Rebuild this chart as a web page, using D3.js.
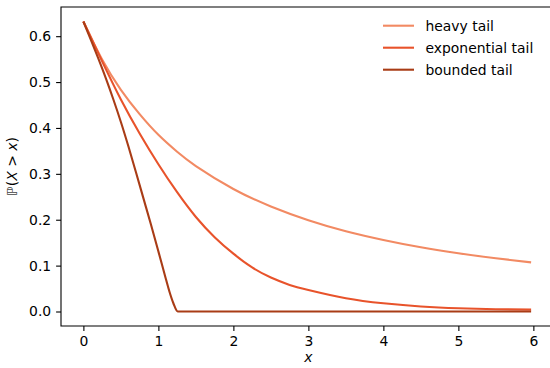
<!DOCTYPE html>
<html>
<head>
<meta charset="utf-8">
<script src="https://cdn.jsdelivr.net/npm/d3@7"></script>
<style>
body { margin: 0; background: #fff; }
svg { font-family: "DejaVu Sans", sans-serif; }
</style>
</head>
<body>
<script>
// values
var heavyX = [0, 0.25, 0.5, 0.75, 1.0, 1.25, 1.5, 2.0, 2.5, 3.0, 3.5, 4.0, 4.5, 5.0, 5.5, 5.97];
var heavyY = [0.632, 0.549, 0.483, 0.430, 0.385, 0.348, 0.317, 0.267, 0.229, 0.199, 0.175, 0.156, 0.140, 0.127, 0.116, 0.107];

var expX = [0, 0.25, 0.5, 0.75, 1.0, 1.25, 1.5, 1.75, 2.0, 2.25, 2.5, 2.75, 3.0, 3.5, 4.0, 4.5, 5.0, 5.5, 5.97];
var expY = [0.632, 0.545, 0.462, 0.388, 0.321, 0.260, 0.206, 0.162, 0.126, 0.096, 0.074, 0.058, 0.047, 0.029, 0.018, 0.011, 0.007, 0.005, 0.004];

var boundX = [0, 0.1, 0.2, 0.3, 0.4, 0.5, 0.6, 0.7, 0.8, 0.9, 1.0, 1.1, 1.15, 1.2, 1.258, 2, 3, 4, 5, 5.97];
var boundY = [0.632, 0.592, 0.551, 0.508, 0.462, 0.413, 0.360, 0.304, 0.247, 0.190, 0.131, 0.071, 0.042, 0.018, 0, 0, 0, 0, 0, 0];

var seriesNames = ['heavy tail', 'exponential tail', 'bounded tail'];
var seriesColors = ['#f28a63', '#e8532b', '#a93c16'];

var xTicks = [0, 1, 2, 3, 4, 5, 6];
var yTicks = [0.0, 0.1, 0.2, 0.3, 0.4, 0.5, 0.6];

var W = 550, H = 368;
var plotLeft = 61, plotRight = 553.5, plotTop = 7, plotBottom = 326;

var svg = d3.select('body')
			.append('svg')
			.attr('width', W)
			.attr('height', H);

var x = d3.scaleLinear().domain([-0.2985, 6.2685]).range([plotLeft, plotRight]);
var y = d3.scaleLinear().domain([-0.0316, 0.6636]).range([plotBottom, plotTop]);

var series = [
	{ name: seriesNames[0], xs: heavyX, ys: heavyY, color: seriesColors[0], curve: d3.curveNatural },
	{ name: seriesNames[1], xs: expX, ys: expY, color: seriesColors[1], curve: d3.curveNatural },
	{ name: seriesNames[2], xs: boundX, ys: boundY, color: seriesColors[2], curve: d3.curveMonotoneX }
];

svg.append('g')
	.selectAll('path')
	.data(series)
	.enter()
	.append('path')
	.attr('fill', 'none')
	.attr('stroke', d => d.color)
	.attr('stroke-width', 2.1)
	.attr('d', function(d) {
		var line = d3.line()
					.x(p => x(p[0]))
					.y(p => y(p[1]))
					.curve(d.curve);
		return line(d.xs.map((v, i) => [v, d.ys[i]]));
	});

// axes
var fontSize = 13.9;
var xAxis = svg.append('g')
			.attr('transform', 'translate(0,' + plotBottom + ')')
			.call(d3.axisBottom(x).tickValues(xTicks).tickFormat(d3.format('d')).tickSize(4.9).tickPadding(4.9).tickSizeOuter(0));
var yAxis = svg.append('g')
			.attr('transform', 'translate(' + plotLeft + ',0)')
			.call(d3.axisLeft(y).tickValues(yTicks).tickFormat(d3.format('.1f')).tickSize(4.9).tickPadding(4.9).tickSizeOuter(0));

[xAxis, yAxis].forEach(function(a) {
	a.select('.domain').remove();
	a.selectAll('line').attr('stroke', '#000').attr('stroke-width', 1.1);
	a.selectAll('text').attr('font-size', fontSize).attr('font-family', '"DejaVu Sans", sans-serif').attr('fill', '#000');
});

// spines (left, bottom, top)
svg.append('path')
	.attr('d', 'M' + (plotRight + 2) + ',' + plotTop + 'H' + plotLeft + 'V' + plotBottom + 'H' + (plotRight + 2))
	.attr('fill', 'none')
	.attr('stroke', '#000')
	.attr('stroke-width', 1.1);

// axis labels
svg.append('text')
	.attr('x', x(3))
	.attr('y', 362)
	.attr('text-anchor', 'middle')
	.attr('font-size', fontSize)
	.attr('font-style', 'italic')
	.text('x');

var yl = svg.append('text')
			.attr('transform', 'translate(17,' + ((plotTop + plotBottom) / 2) + ') rotate(-90)')
			.attr('text-anchor', 'middle')
			.attr('font-size', fontSize);
yl.append('tspan').attr('fill', '#444').text('ℙ');
yl.append('tspan').text('(');
yl.append('tspan').attr('font-style', 'italic').text('X');
yl.append('tspan').text(' > ');
yl.append('tspan').attr('font-style', 'italic').text('x');
yl.append('tspan').text(')');

// legend
var legend = svg.append('g')
				.selectAll('g')
				.data(series)
				.enter()
				.append('g')
				.attr('transform', (d, i) => 'translate(0,' + (25.7 + i * 22) + ')');
legend.append('line')
	.attr('x1', 383).attr('x2', 414)
	.attr('y1', 0).attr('y2', 0)
	.attr('stroke', d => d.color)
	.attr('stroke-width', 2.1);
legend.append('text')
	.attr('x', 425.5)
	.attr('y', 0)
	.attr('dy', '0.35em')
	.attr('font-size', fontSize)
	.text(d => d.name);
</script>
</body>
</html>
